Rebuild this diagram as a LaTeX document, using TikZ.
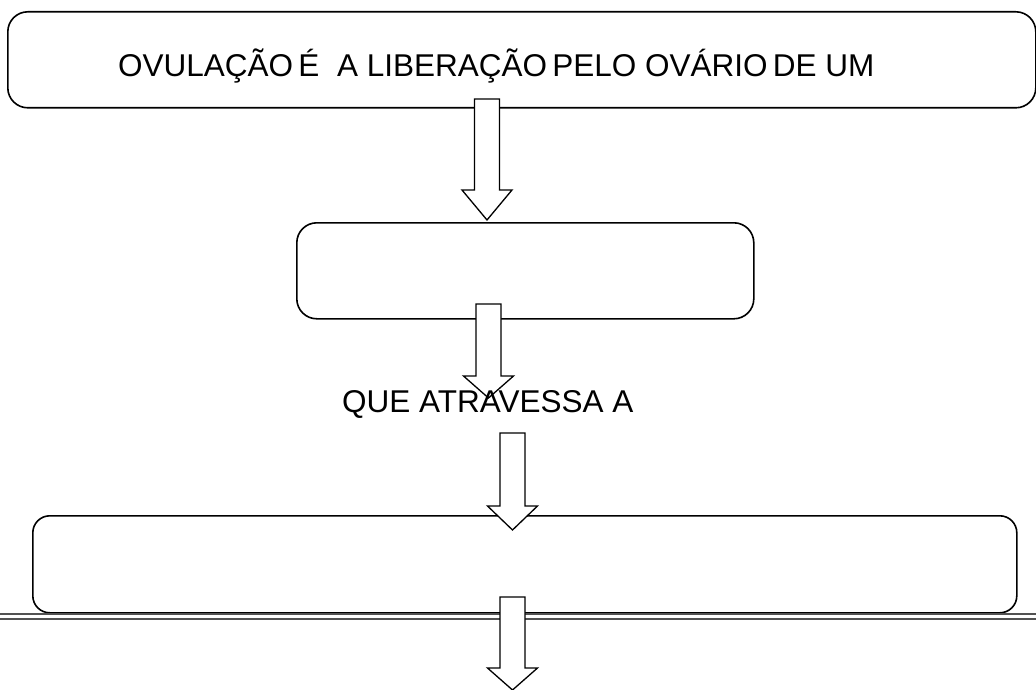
\documentclass[tikz,border=0pt]{standalone}
\usepackage{fontspec}
\setmainfont{Liberation Sans}
\usetikzlibrary{
  calc,
  positioning
}

\begin{document}
\begin{tikzpicture}[
      x=1pt, y=-1pt,
      concept/.style={
         rectangle,
         rounded corners=20pt,
         draw=black,
         line width=1.6pt,
         anchor=north west,
         inner sep=0pt
      },
      label text/.style={
         anchor=base west,
         inner sep=0pt,
         font=\fontsize{31.5}{38}\selectfont
      },
      arrow box/.style={draw=black, fill=white, line width=1.3pt},
      block arrow/.style={
         to path={let \p1=(\tikztostart), \p2=(\tikztotarget) in
            (\x1-12.5pt,\y1) -- (\x1+12.5pt,\y1) -- (\x1+12.5pt,\y2+#1)
            -- (\x1+25pt,\y2+#1) -- (\x2,\y2) -- (\x1-25pt,\y2+#1)
            -- (\x1-12.5pt,\y2+#1) -- cycle}
      },
      block arrow/.default=25pt,
      sep line/.style={draw=black!68, line width=2pt, double=white, double distance=3pt}
    ]
    \useasboundingbox (0,0) rectangle (1036,690);
    % boxes
    \node (ovulacao) [concept, minimum width=1028pt, minimum height=96pt] at (7,11) {};
    \node (ovocito)  [concept, minimum width=457pt, minimum height=96pt] at (296,222) {};
    \node (tuba)     [concept, rounded corners=17pt, minimum width=984pt, minimum height=97pt] at (32,515) {};
    % separator
    \coordinate (sepL) at (0,616.5);
    \coordinate (sepR) at (1036,616.5);
    \draw[sep line] (sepL) -- (sepR);
    % arrows
    \coordinate (a1s) at (487,99);     \coordinate (a1e) at (487,220);
    \coordinate (a2s) at (488.5,304);  \coordinate (a2e) at (488.5,398);
    \coordinate (a3s) at (512.5,433);  \coordinate (a3e) at (512.5,530);
    \coordinate (a4s) at (512.5,597);  \coordinate (a4e) at (512.5,690);
    \draw[arrow box] (a1s) to[block arrow=30pt] (a1e);
    \draw[arrow box] (a2s) to[block arrow=22pt] (a2e);
    \draw[arrow box] (a3s) to[block arrow=24pt] (a3e);
    \draw[arrow box] (a4s) to[block arrow=22pt] (a4e);
    % texts
    \node (ovulacaotext) [label text] at (118,77) {OVULAÇÃO\,É\ \ A LIBERAÇÃO\,PELO OVÁRIO\,DE UM};
    \node (atravessa) [label text] at (342,412) {QUE ATRAVESSA A};
\end{tikzpicture}
\end{document}
